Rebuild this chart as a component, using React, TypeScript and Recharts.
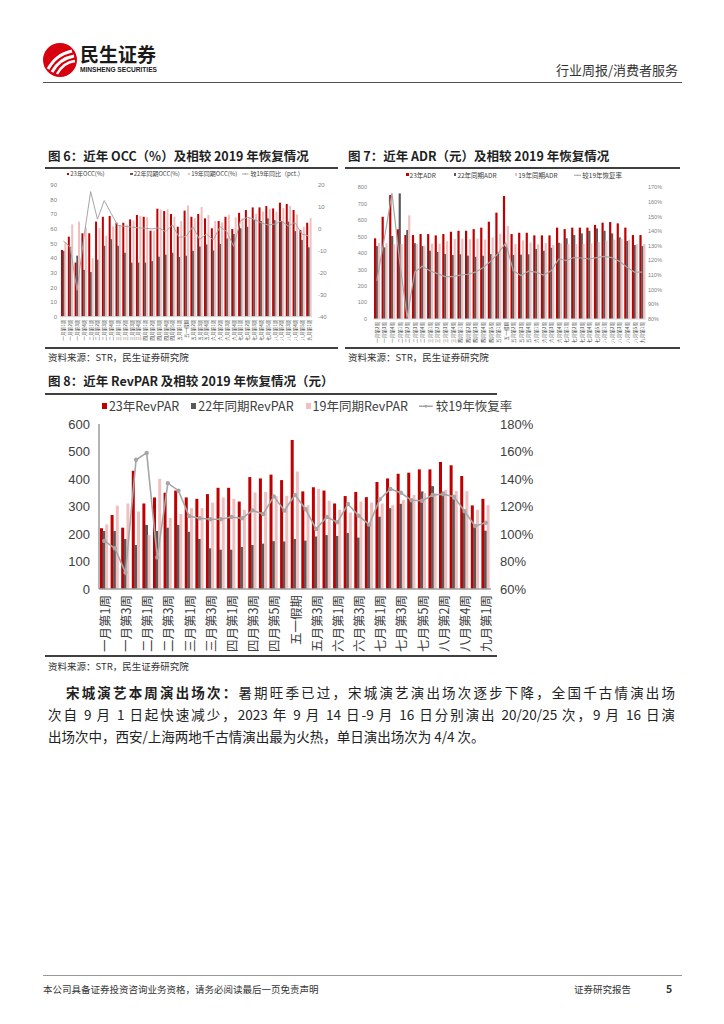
import React from "react";
import { ComposedChart, Bar, Line, XAxis, YAxis } from "recharts";

// weekly categories, 2023
const weeks = [
  "一月第1周", "一月第2周", "一月第3周", "一月第4周",
  "二月第1周", "二月第2周", "二月第3周", "二月第4周",
  "三月第1周", "三月第2周", "三月第3周", "三月第4周",
  "四月第1周", "四月第2周", "四月第3周", "四月第4周", "四月第5周",
  "五月第1周", "五一假期", "五月第2周", "五月第3周", "五月第4周",
  "六月第1周", "六月第2周", "六月第3周", "六月第4周",
  "七月第1周", "七月第2周", "七月第3周", "七月第4周", "七月第5周",
  "八月第1周", "八月第2周", "八月第3周", "八月第4周", "八月第5周",
  "九月第1周",
];
const adrWeeks = weeks.slice(1);

// 图6 OCC
const occ23 = [45.6, 54.7, 37, 57, 57, 65, 68.3, 68.8, 64.2, 64.2, 66.5, 69.5, 68.3, 58.8, 73.8, 72.2, 70.2, 61.5, 72.5, 68.3, 70.2, 67.2, 60.4, 65.4, 68.3, 59.9, 71, 72.9, 74.7, 74.7, 75.6, 74, 77.9, 77, 72.9, 59.2, 64.2];
const occ22 = [45, 47.8, 41.7, 32, 30.5, 39, 48.5, 53, 48.5, 43.7, 37, 37, 37, 38, 41, 42.4, 43.7, 40.8, 41.7, 45, 48, 49.4, 45.3, 49.7, 53.5, 56.5, 60.4, 61.5, 66, 65.4, 67.2, 66, 65.4, 65, 58.5, 52.4, 47.4];
const occ19 = [51.1, 63.1, 65, 61, 40, 60.6, 55.4, 61.7, 62.7, 63, 65.7, 69, 68, 58.8, 73.3, 73.5, 68.4, 65.3, 76, 67.3, 75, 69.5, 65.4, 64.4, 69.6, 67.9, 67.3, 67.6, 70.3, 71.9, 73.8, 71.8, 74.3, 75.7, 69.9, 61.5, 67.4];
const occDiff = [-5.5, -8.4, -28, -4, 17, 4.4, 12.9, 7.1, 1.5, 1.2, 0.8, 0.5, 0.3, 0, 0.5, -1.3, 1.8, -3.8, -3.5, 1, -4.8, -2.3, -5, 1, -1.3, -8, 3.7, 5.3, 4.4, 2.8, 1.8, 2.2, 3.6, 1.3, 3, -2.3, -3.2];
const occTicks = [0, 10, 20, 30, 40, 50, 60, 70, 80, 90];
const occDiffTicks = [-40, -30, -20, -10, 0, 10, 20];

// 图7 ADR
const adr23 = [490, 621, 753, 545, 510, 510, 516, 516, 508, 516, 530, 536, 536, 546, 555, 591, 646, 747, 516, 524, 524, 508, 508, 508, 555, 546, 555, 555, 555, 571, 585, 589, 581, 555, 510, 510];
const adr22 = [443, 435, 504, 763, 540, 460, 443, 415, 407, 395, 389, 393, 385, 378, 384, 395, 405, 440, 389, 391, 393, 425, 415, 433, 463, 490, 510, 520, 536, 550, 536, 520, 496, 474, 449, 443];
const adr19 = [462, 460, 454, 455, 630, 455, 445, 458, 458, 473, 486, 487, 485, 487, 483, 495, 518, 566, 457, 478, 465, 454, 462, 450, 459, 455, 455, 456, 459, 468, 476, 483, 487, 481, 455, 455];
const adrRate = [106, 135, 166, 120, 81, 112, 116, 113, 111, 109, 109, 110, 110.6, 112, 115, 119.4, 124.8, 132, 113, 109.7, 112.7, 112, 110, 113, 121, 120, 122, 121.7, 121, 122, 122.8, 122, 119.4, 115.4, 112, 112];
const adrTicks = [0, 100, 200, 300, 400, 500, 600, 700, 800];
const adrRateTicks = [80, 90, 100, 110, 120, 130, 140, 150, 160, 170];

// 图8 RevPAR
const rev23 = [221, 269, 223, 430, 311, 333, 350, 358, 333, 328, 345, 368, 368, 318, 407, 402, 416, 396, 542, 355, 370, 358, 311, 338, 353, 334, 389, 402, 419, 423, 435, 435, 462, 450, 411, 304, 328];
const rev22 = [211, 211, 182, 160, 233, 211, 223, 233, 208, 182, 148, 143, 143, 153, 160, 165, 174, 173, 182, 176, 191, 196, 193, 204, 187, 233, 263, 294, 310, 321, 355, 374, 354, 326, 278, 224, 212];
const rev19 = [235, 303, 311, 282, 196, 401, 258, 273, 294, 294, 314, 333, 328, 288, 351, 353, 338, 339, 427, 305, 364, 321, 288, 278, 318, 314, 311, 305, 324, 342, 348, 348, 361, 356, 356, 288, 305];
const revRate = [95, 89.6, 72, 154, 159, 83, 137, 131.5, 113, 111.4, 110.7, 110.7, 112.4, 111.4, 117.2, 114.5, 127.4, 117, 128.4, 118, 103.6, 112.4, 108.5, 121.8, 113.3, 106.8, 125.2, 132.7, 130, 124.5, 124.2, 128.4, 129, 127.2, 116.6, 105.8, 108.2];
const revTicks = [0, 50, 100, 150, 200, 250, 300, 350, 400, 450, 500, 550, 600];
const revRateTicks = [60, 80, 100, 120, 140, 160, 180];

const RED = "#C00000";
const DARK = "#595959";
const PINK = "#F0C0C0";
const GREY = "#A6A6A6";
const CJK = '"Noto Sans CJK SC", "Noto Sans", sans-serif';
const LAT = '"Liberation Sans", Arial, sans-serif';

const occData = weeks.map((w, i) => ({ w, a: occ23[i], b: occ22[i], c: occ19[i], r: occDiff[i] }));
const adrData = adrWeeks.map((w, i) => ({ w, a: adr23[i], b: adr22[i], c: adr19[i], r: adrRate[i] }));
const revData = weeks.map((w, i) => ({ w, a: rev23[i], b: rev22[i], c: rev19[i], r: revRate[i] }));

function VTick(props: any) {
  const { x, y, payload, size } = props;
  return (
    <text
      x={x}
      y={y}
      transform={`rotate(-90 ${x} ${y})`}
      textAnchor="end"
      dominantBaseline="central"
      fontSize={size}
      fontFamily={CJK}
      fill="#404040"
    >
      {payload.value}
    </text>
  );
}

function LegendRow({ items, size, top, left, gaps }: any) {
  return (
    <div style={{ position: "absolute", top, left, display: "flex", alignItems: "center", fontSize: size, fontFamily: CJK, color: "#404040", whiteSpace: "nowrap", lineHeight: 1 }}>
      {items.map((it: any, i: number) => (
        <div key={i} style={{ display: "flex", alignItems: "center", marginRight: gaps[i] }}>
          {it.line ? (
            <svg width={size * 1.1} height={size} style={{ marginRight: size * 0.25 }}>
              <line x1={0} y1={size / 2} x2={size * 1.1} y2={size / 2} stroke={GREY} strokeWidth={Math.max(1, size / 8)} />
              <circle cx={size * 0.55} cy={size / 2} r={size / 9} fill={GREY} />
            </svg>
          ) : (
            <span style={{ display: "inline-block", width: size * 0.4, height: size * 0.45, background: it.color, marginRight: size * 0.15 }} />
          )}
          <span>{it.label}</span>
        </div>
      ))}
    </div>
  );
}

function Rule({ x, y, w, c = "#404040", h = 1.5 }: any) {
  return <div style={{ position: "absolute", left: x, top: y, width: w, height: h, background: c }} />;
}

function Txt({ x, y, size, children, bold, color = "#222", font = CJK }: any) {
  return (
    <div style={{ position: "absolute", left: x, top: y, fontSize: size, fontWeight: bold ? 700 : 400, color, fontFamily: font, whiteSpace: "nowrap", lineHeight: 1 }}>
      {children}
    </div>
  );
}

export default function App() {
  return (
    <div style={{ position: "absolute", left: 0, top: 0, width: 724, height: 1024, background: "#fff", fontFamily: CJK, overflow: "hidden" }}>
      {/* header */}
      <svg style={{ position: "absolute", left: 42, top: 42 }} width={36} height={36}>
        <circle cx={18} cy={18} r={17} fill="#D7000F" />
        <path d="M6 27 C 12 17, 18 12, 30 9" stroke="#fff" strokeWidth={3} fill="none" />
        <path d="M10 30 C 15 21, 21 16, 32 14" stroke="#fff" strokeWidth={3} fill="none" />
        <path d="M15 32 C 19 25, 24 20, 33 19" stroke="#fff" strokeWidth={2.5} fill="none" />
      </svg>
      <Txt x={80} y={44} size={19} bold color="#1a1a1a">民生证券</Txt>
      <Txt x={80} y={67} size={6.6} bold color="#1a1a1a" font={LAT}>MINSHENG SECURITIES</Txt>
      <Txt x={556} y={63} size={13} color="#333">行业周报/消费者服务</Txt>
      <Rule x={43} y={82} w={639} c="#555" h={1.2} />

      {/* 图6 */}
      <Txt x={48} y={150} size={12.5} bold color="#1f1f1f">图 6：近年 OCC（%）及相较 2019 年恢复情况</Txt>
      <Rule x={45} y={167} w={293} />
      <div style={{ position: "absolute", left: 43, top: 168 }}>
        <ComposedChart width={300} height={178} data={occData} margin={{ top: 17, right: 0, left: 0, bottom: 0 }} barSize={2} barGap={-0.3}>
          <XAxis dataKey="w" interval={0} height={29.3} tickSize={0} tickMargin={3} axisLine={{ stroke: "#D9D9D9" }} tick={(p: any) => <VTick {...p} size={4.6} />} />
          <YAxis yAxisId="left" width={17} domain={[0, 90]} ticks={occTicks} tickSize={0} tickMargin={3} axisLine={false} tick={{ fontSize: 6, fill: "#7F7F7F", fontFamily: LAT }} />
          <YAxis yAxisId="right" orientation="right" width={31} domain={[-40, 20]} ticks={occDiffTicks} tickSize={0} tickMargin={6} axisLine={false} tick={{ fontSize: 6, fill: "#7F7F7F", fontFamily: LAT, textAnchor: "start" }} />
          <Bar yAxisId="left" dataKey="a" fill={RED} isAnimationActive={false} />
          <Bar yAxisId="left" dataKey="b" fill={DARK} isAnimationActive={false} />
          <Bar yAxisId="left" dataKey="c" fill={PINK} isAnimationActive={false} />
          <Line yAxisId="right" dataKey="r" stroke={GREY} strokeWidth={1} dot={false} isAnimationActive={false} />
        </ComposedChart>
        <LegendRow
          top={3}
          left={24}
          size={6}
          gaps={[26, 8, 5, 0]}
          items={[
            { label: "23年OCC(%)", color: RED },
            { label: "22年同期OCC(%)", color: DARK },
            { label: "19年同期OCC(%)", color: PINK },
            { label: "较19年同比（pct.）", line: true },
          ]}
        />
      </div>
      <Rule x={45} y={347} w={293} />
      <Txt x={48} y={353} size={9.5} color="#333">资料来源：STR，民生证券研究院</Txt>

      {/* 图7 */}
      <Txt x={348} y={150} size={12.5} bold color="#1f1f1f">图 7：近年 ADR（元）及相较 2019 年恢复情况</Txt>
      <Rule x={345} y={167} w={335} />
      <div style={{ position: "absolute", left: 343, top: 168 }}>
        <ComposedChart width={330} height={178} data={adrData} margin={{ top: 19.3, right: 0, left: 0, bottom: 0 }} barSize={2.2} barGap={-0.3}>
          <XAxis dataKey="w" interval={0} height={27} tickSize={0} tickMargin={3} axisLine={{ stroke: "#D9D9D9" }} tick={(p: any) => <VTick {...p} size={4.6} />} />
          <YAxis yAxisId="left" width={30} domain={[0, 800]} ticks={adrTicks} tickSize={0} tickMargin={6} axisLine={false} tick={{ fontSize: 5.5, fill: "#7F7F7F", fontFamily: LAT }} />
          <YAxis yAxisId="right" orientation="right" width={27} domain={[80, 170]} ticks={adrRateTicks} tickSize={0} tickMargin={2} axisLine={false} tickFormatter={(v: number) => `${v}%`} tick={{ fontSize: 5.5, fill: "#7F7F7F", fontFamily: LAT, textAnchor: "start" }} />
          <Bar yAxisId="left" dataKey="a" fill={RED} isAnimationActive={false} />
          <Bar yAxisId="left" dataKey="b" fill={DARK} isAnimationActive={false} />
          <Bar yAxisId="left" dataKey="c" fill={PINK} isAnimationActive={false} />
          <Line yAxisId="right" dataKey="r" stroke={GREY} strokeWidth={1.2} dot={false} isAnimationActive={false} />
        </ComposedChart>
        <LegendRow
          top={3.5}
          left={63}
          size={6.5}
          gaps={[18, 18, 16, 0]}
          items={[
            { label: "23年ADR", color: RED },
            { label: "22年同期ADR", color: DARK },
            { label: "19年同期ADR", color: PINK },
            { label: "较19年恢复率", line: true },
          ]}
        />
      </div>
      <Rule x={345} y={347} w={335} />
      <Txt x={348} y={353} size={9.5} color="#333">资料来源：STR，民生证券研究院</Txt>

      {/* 图8 */}
      <Txt x={48} y={375} size={12.5} bold color="#1f1f1f">图 8：近年 RevPAR 及相较 2019 年恢复情况（元）</Txt>
      <Rule x={45} y={393} w={452} />
      <div style={{ position: "absolute", left: 40, top: 390 }}>
        <ComposedChart width={500} height={270} data={revData} margin={{ top: 34, right: 0, left: 0, bottom: 0 }} barSize={3} barGap={-0.4}>
          <XAxis dataKey="w" interval={1} height={71} tickSize={0} tickMargin={6} axisLine={{ stroke: "#A0A0A0", strokeWidth: 1.5 }} tick={(p: any) => <VTick {...p} size={12.5} />} />
          <YAxis yAxisId="left" width={59} domain={[0, 600]} ticks={revTicks} tickSize={0} tickMargin={9} axisLine={{ stroke: "#808080", strokeWidth: 1.2 }} tick={{ fontSize: 13, fill: "#404040", fontFamily: LAT }} />
          <YAxis yAxisId="right" orientation="right" width={49} domain={[60, 180]} ticks={revRateTicks} tickSize={0} tickMargin={9} axisLine={false} tickFormatter={(v: number) => `${v}%`} tick={{ fontSize: 13, fill: "#404040", fontFamily: LAT, textAnchor: "start" }} />
          <Bar yAxisId="left" dataKey="a" fill={RED} isAnimationActive={false} />
          <Bar yAxisId="left" dataKey="b" fill={DARK} isAnimationActive={false} />
          <Bar yAxisId="left" dataKey="c" fill={PINK} isAnimationActive={false} />
          <Line yAxisId="right" dataKey="r" stroke={GREY} strokeWidth={1.6} dot={{ r: 1.4, fill: GREY, stroke: GREY }} isAnimationActive={false} />
        </ComposedChart>
        <LegendRow
          top={10}
          left={62}
          size={12.5}
          gaps={[12, 12, 11, 0]}
          items={[
            { label: "23年RevPAR", color: RED },
            { label: "22年同期RevPAR", color: DARK },
            { label: "19年同期RevPAR", color: PINK },
            { label: "较19年恢复率", line: true },
          ]}
        />
      </div>
      <Rule x={45} y={655} w={452} />
      <Txt x={48} y={662} size={9.5} color="#333">资料来源：STR，民生证券研究院</Txt>

      {/* paragraph */}
      <div style={{ position: "absolute", left: 48, top: 681, width: 627, fontSize: 13.5, lineHeight: "22px", color: "#222", fontFamily: CJK }}>
        <div style={{ paddingLeft: 18, textAlign: "justify", textAlignLast: "justify" }}>
          <b>宋城演艺本周演出场次：</b>暑期旺季已过，宋城演艺演出场次逐步下降，全国千古情演出场
        </div>
        <div style={{ textAlign: "justify", textAlignLast: "justify" }}>
          次自 9 月 1 日起快速减少，2023 年 9 月 14 日-9 月 16 日分别演出 20/20/25 次，9 月 16 日演
        </div>
        <div>出场次中，西安/上海两地千古情演出最为火热，单日演出场次为 4/4 次。</div>
      </div>

      {/* footer */}
      <Rule x={43} y={975} w={639} c="#999" h={1} />
      <Txt x={43} y={985} size={9.5} color="#333">本公司具备证券投资咨询业务资格，请务必阅读最后一页免责声明</Txt>
      <Txt x={574} y={985} size={9.5} color="#333">证券研究报告</Txt>
      <Txt x={666} y={984} size={10.5} bold color="#333">5</Txt>
    </div>
  );
}
